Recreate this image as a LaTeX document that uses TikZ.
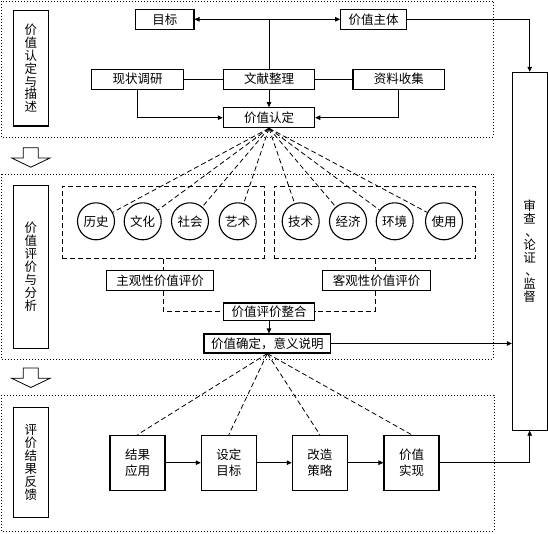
\documentclass[tikz,border=0pt]{standalone}
\usepackage{fontspec}
\setmainfont{Noto Sans CJK SC}
\usetikzlibrary{arrows.meta}

\newcommand{\vcomma}{\hspace*{.3em}、}

\begin{document}
\begin{tikzpicture}[
    x=1pt, y=-1pt,
    font=\fontsize{12.5}{12.9}\selectfont,
    box node/.style={rectangle, draw=black, line width=1.1pt, inner sep=0pt, minimum height=20pt},
    side node/.style={box node, minimum width=35pt, align=center},
    value node/.style={circle, draw=black, line width=1.1pt, inner sep=0pt, minimum size=37pt},
    stage node/.style={box node, minimum width=55pt, minimum height=55pt, align=center, font=\fontsize{12.5}{16}\selectfont},
    group node/.style={rectangle, draw=black, line width=0.9pt, dash pattern=on 5pt off 3pt, minimum width=201.7pt, minimum height=71.7pt, inner sep=0pt},
    section box/.style={draw=black, line width=1pt, dotted},
    arrow line/.style={-{Triangle[length=5pt, width=4.5pt]}, line width=0.7pt},
    plain line/.style={line width=0.7pt},
    dash line/.style={line width=0.8pt, dash pattern=on 5pt off 3pt}
]
    \useasboundingbox (0,0) rectangle (548,533);

    % Sections
    \draw[section box] (1,1) rectangle (493.3,137);
    \draw[section box] (1,174) rectangle (493.3,359);
    \draw[section box] (1,395) rectangle (494,531);
    \foreach \ytop in {147.7, 368}
        \draw[line width=0.8pt] (23.3,\ytop) -- (38.3,\ytop) -- (38.3,\ytop+10.3) -- (50,\ytop+10.3)
            -- (30.8,\ytop+19.5) -- (11.7,\ytop+10.3) -- (23.3,\ytop+10.3) -- cycle;

    % Side labels
    \node[side node, minimum height=115.3pt] (desc) at (30.8,68.3) {价\\值\\认\\定\\与\\描\\述};
    \node[side node, minimum height=162.7pt] (analysis) at (30.8,266.7) {价\\值\\评\\价\\与\\分\\析};
    \node[side node, minimum height=110pt] (feedback) at (30.8,462.7) {评\\价\\结\\果\\反\\馈};
    \node[box node, minimum width=34.7pt, minimum height=357.7pt, align=center] (review) at (529.7,251.2) {审\\查\\\vcomma\\论\\证\\\vcomma\\监\\督};

    % Nodes: recognition
    \node[box node, minimum width=58.3pt] (goal) at (164.8,19.3) {目标};
    \node[box node, minimum width=65.6pt] (subject) at (373.5,19.3) {价值主体};
    \node[box node, minimum width=91.6pt] (survey) at (137.5,79.2) {现状调研};
    \node[box node, minimum width=91.4pt] (docs) at (269,79.2) {文献整理};
    \node[box node, minimum width=91.7pt] (collect) at (398.8,79.2) {资料收集};
    \node[box node, minimum width=91.4pt] (recog) at (269,117.7) {价值认定};
    \coordinate (split) at (269,19.3);

    % Nodes: evaluation
    \node[group node] (subjgrp) at (163.2,222.2) {};
    \node[group node] (objgrp) at (374.9,222.2) {};
    \node[value node] (history) at (96,221.3) {历史};
    \node[value node] (culture) at (142.7,221.3) {文化};
    \node[value node] (society) at (190,221.3) {社会};
    \node[value node] (art) at (237.7,221.3) {艺术};
    \node[value node] (tech) at (300.7,221.3) {技术};
    \node[value node] (economy) at (348,221.3) {经济};
    \node[value node] (environ) at (394.7,221.3) {环境};
    \node[value node] (usage) at (444,221.3) {使用};
    \node[box node, minimum width=106.6pt] (subj) at (160,280.7) {主观性价值评价};
    \node[box node, minimum width=108.4pt] (obj) at (376.5,280.7) {客观性价值评价};
    \node[box node, minimum width=91.4pt, minimum height=17.7pt] (integ) at (269,311.8) {价值评价整合};
    \node[box node, minimum width=126.7pt, minimum height=19pt] (confirm) at (267.3,343.5) {价值确定，意义说明};

    % Nodes: feedback
    \node[stage node] (result) at (137.5,462.7) {结果\\应用};
    \node[stage node] (target) at (228.8,462.7) {设定\\目标};
    \node[stage node] (strategy) at (319.8,462.7) {改造\\策略};
    \node[stage node] (realize) at (411.5,462.7) {价值\\实现};

    % Edges: recognition
    \draw[arrow line] (split) -- (goal);
    \draw[arrow line] (split) -- (subject);
    \draw[plain line] (split) -- (docs);
    \draw[plain line] (survey) -- (docs);
    \draw[plain line] (docs) -- (collect);
    \draw[arrow line] (docs) -- (recog);
    \draw[arrow line] (survey.south) |- (recog.west);
    \draw[arrow line] (collect.south) |- (recog.east);
    \draw[arrow line] (subject.east) -| (review.north);

    % Edges: evaluation
    \foreach \c in {history, culture, society, art, tech, economy, environ, usage}
        \draw[dash line] (recog.south) -- (\c);
    \draw[dash line] (subjgrp.south) -- (subjgrp.south |- subj.north);
    \draw[dash line] (subjgrp.south |- subj.south) |- (integ.west);
    \draw[dash line] (objgrp.south) -- (objgrp.south |- obj.north);
    \draw[dash line] (objgrp.south |- obj.south) |- (integ.east);
    \draw[arrow line] (integ.south) -- (integ.south |- confirm.north);
    \draw[arrow line] (confirm.east) -- (confirm.east -| review.west);

    % Edges: feedback
    \foreach \s in {result, target, strategy, realize}
        \draw[dash line] (confirm.south) -- (\s.north);
    \draw[arrow line] (result) -- (target);
    \draw[arrow line] (target) -- (strategy);
    \draw[arrow line] (strategy) -- (realize);
    \draw[arrow line] (realize.east) -| (review.south);

\end{tikzpicture}
\end{document}
